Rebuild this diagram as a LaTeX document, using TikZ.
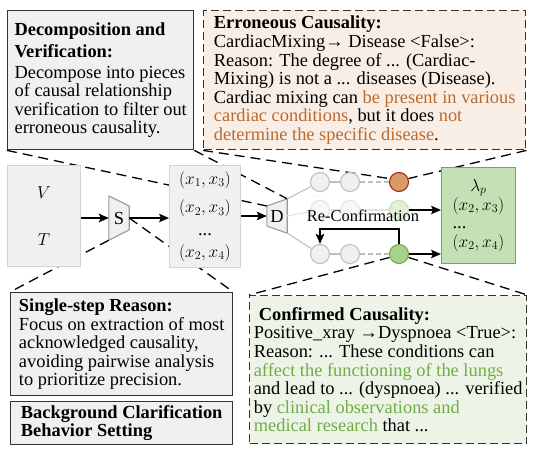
\documentclass[tikz,border=0pt]{standalone}
\usepackage{fontspec}
\setmainfont{Liberation Serif}
\usetikzlibrary{arrows.meta, positioning, backgrounds, calc}
\definecolor{boxgray}{HTML}{F0F0F0}
\definecolor{rimgray}{HTML}{D4D4D4}
\definecolor{nodegray}{HTML}{BFBFBF}
\definecolor{fadegray}{HTML}{E3E3E3}
\definecolor{inkgray}{HTML}{333333}
\definecolor{errfill}{HTML}{F9EEE6}
\definecolor{errtext}{HTML}{BB6A2E}
\definecolor{errdot}{HTML}{D69C68}
\definecolor{errrim}{HTML}{A52A1E}
\definecolor{okfill}{HTML}{EEF3E7}
\definecolor{oktext}{HTML}{70AD47}
\definecolor{okdot}{HTML}{A9D18E}
\definecolor{oklight}{HTML}{E2F0D9}
\definecolor{okbox}{HTML}{C5E0B4}

\newcommand{\errtxt}[1]{\textcolor{errtext}{#1}}
\newcommand{\oktxt}[1]{\textcolor{oktext}{#1}}

\begin{document}
\begin{tikzpicture}[x=1pt, y=-1pt,
  font=\fontsize{18.4}{18.6}\selectfont,
  panel/.style={rectangle, draw=inkgray, fill=boxgray, line width=1.4pt,
                align=left, anchor=north west, inner sep=0pt},
  dashpanel/.style={panel, dash pattern=on 8pt off 4pt, fill=#1},
  inbox/.style={rectangle, draw=rimgray, fill=boxgray, line width=0.9pt,
                align=center, anchor=north west, inner sep=0pt},
  trapnode/.style={inner sep=0pt, minimum width=20pt},
  trapfill/.style={draw=black!40, fill=boxgray, line width=1.1pt, line join=round},
  bead/.style={circle, draw=nodegray, fill=boxgray, line width=1.1pt,
               minimum size=19pt, inner sep=0pt},
  fadebead/.style={bead, draw=fadegray, fill=boxgray!45},
  link/.style={draw=nodegray, line width=1.1pt},
  arr/.style={-{Stealth[length=10pt, width=8.5pt, inset=2pt]}, line width=1.6pt},
  zoomline/.style={line width=1.3pt, dash pattern=on 10pt off 6pt}
]
\useasboundingbox (0,0) rectangle (537,453);

% Explanation panels
\node[panel, minimum width=186pt, minimum height=139pt] (decomp) at (7,10)
  {\textbf{Decomposition and}\\[4pt]\textbf{Verification:}\\[1.5pt]Decompose into pieces\\of causal relationship\\verification to filter out\\erroneous causality.};
\node[dashpanel=errfill, minimum width=322pt, minimum height=139pt] (erron) at (203,10)
  {\textbf{Erroneous Causality:}\\
   CardiacMixing→ Disease <False>:\\
   Reason: The degree of ... (Cardiac-\\
   Mixing) is not a ... diseases (Disease).\\
   Cardiac mixing can \errtxt{be present in various}\\
   \errtxt{cardiac conditions}, but it does \errtxt{not}\\
   \errtxt{determine the specific disease}.};
\node[panel, minimum width=222pt, minimum height=103pt] (single) at (10,292)
  {\textbf{Single-step Reason:}\\Focus on extraction of most\\acknowledged causality,\\avoiding pairwise analysis\\to prioritize precision.};
\node[panel, minimum width=222pt, minimum height=43pt] (backg) at (10,401)
  {\textbf{Background Clarification}\\\textbf{Behavior Setting}};
\node[dashpanel=okfill, minimum width=277pt, minimum height=148pt] (confirm) at (249,295)
  {\hspace*{5pt}\textbf{Confirmed Causality:}\\
   Positive\_xray →Dyspnoea <True>:\\
   Reason: ... These conditions can\\
   \oktxt{affect the functioning of the lungs}\\
   and lead to ... (dyspnoea) ... verified\\
   by \oktxt{clinical observations and}\\
   \oktxt{medical research} that ...};

% Pipeline
\node[inbox, minimum width=73pt, minimum height=101pt] (vt) at (7,165) {$V$\\[28.4pt]$T$};
\node[trapnode, minimum height=44pt] (S) at (119,218) {S};
\node[inbox, minimum width=71pt, minimum height=102pt] (pairs) at (169,165)
  {$(x_1,x_3)$\\[10pt]$(x_2,x_3)$\\[3.5pt]...\\[3.5pt]$(x_2,x_4)$};
\node[trapnode, minimum height=34pt] (D) at (277,216) {D};
\node[inbox, draw=oktext, fill=okbox, minimum width=74pt, minimum height=96pt] (lam) at (441,167)
  {$\lambda_p$\\$(x_2,x_3)$\\\rlap{...}\phantom{$(x_2,x_3)$}\\$(x_2,x_4)$};

% Verification chains
\node[bead] (c11) at (320,182) {};
\node[bead] (c12) at (350,182) {};
\node[bead, draw=errrim, fill=errdot] (bad) at (399,182) {};
\node[fadebead] (c21) at (320,210) {};
\node[fadebead] (c22) at (350,210) {};
\node[bead, draw=okbox, fill=oklight] (okmid) at (399,210) {};
\node[bead] (c31) at (320,254) {};
\node[bead] (c32) at (350,254) {};
\node[bead, draw=oktext, fill=okdot] (oklow) at (399,254) {};
\node[text=nodegray, font=\fontsize{9}{9}\selectfont, inner sep=0pt] (vdots) at (320,196) {$\cdots$};

\draw[link] (D.north east) -- (c11);
\draw[link] (c11) -- (c12);
\draw[link, dash pattern=on 5pt off 3pt] (c12) -- (bad);
\draw[link, draw=fadegray] (D.east) -- (c21);
\draw[link, draw=fadegray] (c21) -- (c22);
\draw[link, draw=fadegray] (c22) -- (okmid);
\draw[link] (D.south east) -- (c31);
\draw[link] (c31) -- (c32);
\draw[link, dash pattern=on 5pt off 3pt] (c32) -- (oklow);

% Main arrows
\draw[arr] (vt.east |- S.west) -- (S.west);
\draw[arr] (S.east) -- (S.east -| pairs.west);
\draw[arr] (pairs.east |- D.west) -- (D.west);
\draw[arr] (okmid) -- (okmid -| lam.west);
\draw[arr] (oklow) -- (oklow -| lam.west);
\draw[arr] (oklow.north) -- ++(0,-15) -| (c31.north);
\node[font=\fontsize{16.4}{18}\selectfont] (reconf) at (363,216) {Re-Confirmation};

% Trapezoids and zoom lines
\begin{scope}[on background layer]
  \draw[trapfill] (S.north west) -- ([yshift=12pt]S.east) -- ([yshift=-12pt]S.east) -- (S.south west) -- cycle;
  \draw[trapfill] ([yshift=10pt]D.west) -- (D.north east) -- (D.south east) -- ([yshift=-10pt]D.west) -- cycle;
  \draw[zoomline] (decomp.south west) -- ([yshift=10pt]D.west);
  \draw[zoomline] (decomp.south east) -- (D.north east);
  \draw[zoomline] (erron.south west) -- (bad.160);
  \draw[zoomline] (erron.south east) -- (bad.20);
  \draw[zoomline] (S.south west) -- (single.north west);
  \draw[zoomline] (S.east) -- (single.north east);
  \draw[zoomline] (oklow.200) -- (confirm.north west);
  \draw[zoomline] (oklow.-20) -- (confirm.north east);
\end{scope}
\end{tikzpicture}
\end{document}
